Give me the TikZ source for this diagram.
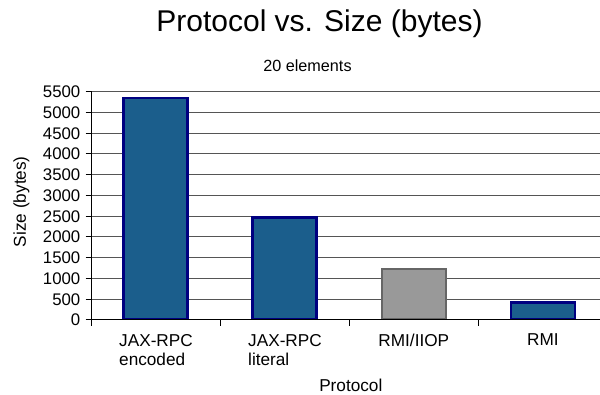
\documentclass[tikz,border=0pt]{standalone}
\usepackage{fontspec}
\setmainfont{Liberation Sans}
\definecolor{barblue}{HTML}{1B5E8C}
\definecolor{barnavy}{HTML}{000080}
\definecolor{bargray}{HTML}{999999}
\definecolor{bargrayedge}{HTML}{666666}
\definecolor{gridgray}{HTML}{555555}
\begin{document}
\begin{tikzpicture}[x=1pt,y=-1pt,
  grid line/.style={draw=gridgray,line width=1pt},
  axis line/.style={draw=black,line width=1pt},
  bluebar/.style={fill=barblue,draw=barnavy,line width=2.2pt,minimum width=64pt,inner sep=0pt,anchor=south},
  graybar/.style={fill=bargray,draw=bargrayedge,line width=2.2pt,minimum width=64pt,inner sep=0pt,anchor=south},
  ticklabel/.style={font=\fontsize{16.8}{16.8}\selectfont,anchor=east,inner sep=0pt},
  catlabel/.style={font=\fontsize{17.2}{19}\selectfont,align=left,anchor=north,inner sep=0pt},
  axistitle/.style={font=\fontsize{17.2}{17.2}\selectfont,inner sep=0pt}]
\useasboundingbox (0,0) rectangle (600,395);
\fill[white] (0,0) rectangle (600,395);

% titles
\node[font=\fontsize{30}{30}\selectfont,anchor=base,inner sep=0pt] (title) at (319.5,31.7) {Protocol vs. Size (bytes)};
\node[font=\fontsize{16.2}{16.2}\selectfont,anchor=base,inner sep=0pt] (sub) at (307.5,71.5) {20 elements};

% horizontal grid lines and value labels (500 bytes = 20.75 px)
\foreach \v [count=\i from 0] in {0,500,...,5500} {
  \draw[grid line] (91.7,320-\i*20.75) -- (600,320-\i*20.75);
  \draw[axis line] (85.5,320-\i*20.75) -- (91.7,320-\i*20.75);
  \node[ticklabel] (yl\i) at (80.5,320-\i*20.75) {\v};
}

% axes
\draw[axis line] (91.7,91.2) -- (91.7,326.5);
\foreach \x in {220.7,349.3,478.3} \draw[axis line] (\x,320) -- (\x,326.5);

% bars
\node[bluebar,minimum height=320-99.3] (b1) at (155.5,320) {};
\node[bluebar,minimum height=320-218.7] (b2) at (284.5,320) {};
\node[graybar,minimum height=320-270.3] (b3) at (413.8,320) {};
\node[bluebar,minimum height=320-303.7] (b4) at (543.3,320) {};
\draw[axis line] (91.7,320) -- (600,320);

% category labels
\node[catlabel] (c1) at (156,333.8) {JAX-RPC\\encoded};
\node[catlabel] (c2) at (285,333.8) {JAX-RPC\\literal};
\node[catlabel] (c3) at (413.8,333.8) {RMI/IIOP};
\node[catlabel] (c4) at (543,333.8) {RMI};

% axis titles
\node[axistitle,anchor=base] (xt) at (350.8,391.5) {Protocol};
\node[axistitle,rotate=90,anchor=center] (yt) at (21.5,201.7) {Size (bytes)};
\end{tikzpicture}
\end{document}
